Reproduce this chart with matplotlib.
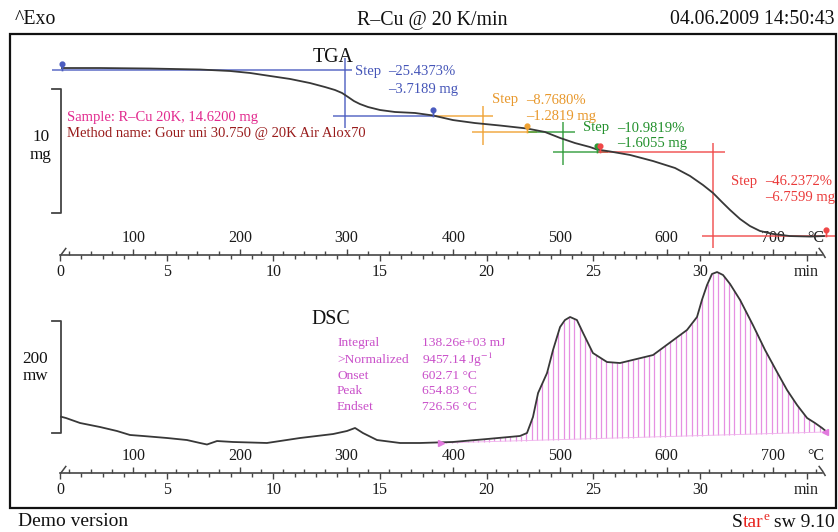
import numpy as np
import matplotlib
matplotlib.use("Agg")
import matplotlib.pyplot as plt
from matplotlib.path import Path
from matplotlib.patches import Rectangle
from matplotlib.ticker import FixedLocator

plt.rcParams['font.family'] = ['Liberation Serif', 'DejaVu Serif']
plt.rcParams['mathtext.fontset'] = 'stix'

# ---------------- data ----------------
tga_time = [0.09, 1.88, 4.22, 6.56, 7.97, 8.91, 9.84, 10.78, 11.72, 12.42, 12.89,
            13.22, 13.50, 13.78, 14.06, 14.44, 15.00, 15.70, 16.64, 17.48, 18.42,
            19.45, 20.63, 21.89, 22.73, 23.44, 24.14, 24.84, 25.17, 25.78, 26.72,
            27.80, 28.83, 29.53, 30.14, 30.61, 31.03, 31.41, 31.88, 32.34, 32.81,
            33.42, 34.22, 35.16, 35.81]
tga_mass = [14.78, 14.78, 14.74, 14.66, 14.54, 14.38, 14.14, 13.90, 13.57, 13.25, 13.01,
            12.77, 12.45, 12.12, 11.88, 11.64, 11.40, 11.24, 11.16, 10.96, 10.59,
            10.35, 10.15, 9.91, 9.63, 9.15, 8.74, 8.42, 8.22, 8.06, 7.78,
            7.29, 6.73, 6.09, 5.36, 4.72, 3.99, 3.35, 2.62, 2.06, 1.66,
            1.42, 1.25, 1.21, 1.25]

dsc_time = [0.05, 0.28, 0.94, 1.88, 2.67, 3.28, 3.89, 5.02, 5.95, 6.56, 6.89, 7.36,
            8.11, 9.70, 11.25, 12.80, 13.45, 13.83, 14.20, 14.86, 15.94, 16.88, 18.42,
            20.02, 21.56, 21.89, 22.17, 22.41, 22.83, 23.11, 23.44, 23.67, 23.91, 24.23,
            24.52, 24.98, 25.64, 26.25, 27.80, 29.39, 29.86, 30.09, 30.33, 30.56, 30.80,
            31.08, 31.41, 31.88, 32.48, 33.05, 33.61, 34.08, 34.55, 35.02, 35.39, 35.72,
            35.95]
dsc_heat = [100.5, 98.2, 89.3, 82.1, 75.0, 67.9, 66.1, 62.5, 58.9, 53.6, 50.9, 57.1,
            55.4, 53.6, 62.5, 69.6, 75.0, 80.4, 71.4, 58.9, 53.6, 53.6, 55.4,
            60.7, 66.1, 71.4, 100.0, 142.9, 178.6, 219.6, 260.7, 273.2, 278.6, 273.2,
            250.0, 214.3, 198.2, 196.4, 210.7, 255.4, 278.6, 308.9, 335.7, 355.4, 358.9,
            353.6, 337.5, 308.9, 264.3, 219.6, 180.4, 148.2, 121.4, 98.2, 89.3, 80.4,
            73.2]

sample_mass = 14.62
step_mg = [-3.7189, -1.2819, -1.6055, -6.7599]
step_pct = [-25.4373, -8.7680, -10.9819, -46.2372]
upper_start = [-0.375, 17.48, 21.89, 25.22]
upper_end = [13.69, 20.30, 24.14, 31.17]
lower_start = [12.80, 19.31, 23.11, 30.09]
lower_end = [17.67, 22.36, 25.69, 36.47]
inflect_time = [13.36, 19.83, 23.60, 30.61]
inflect_top = [15.59, 11.72, 10.43, 8.74]
inflect_bottom = [9.95, 8.58, 6.97, 0.29]
pin_time = [0.09, 17.48, 21.89, 25.17, 25.30, 35.90]
pin_level = [0, 1, 2, 3, 3, 4]
pin_step = [0, 0, 1, 2, 3, 3]

dsc_limits_time = [17.86, 35.86]
dsc_baseline = [53.6, 73.2]
dsc_labels = ['Integral', '>Normalized', 'Onset', 'Peak', 'Endset']
dsc_values = ['138.26e+03 mJ', '9457.14 Jg$^{-1}$', '602.71 °C', '654.83 °C', '726.56 °C']

time_ticks = [0, 5, 10, 15, 20, 25, 30, 35]
time_ticklabels = ['0', '5', '10', '15', '20', '25', '30', 'min']
temp_ticks = [100, 200, 300, 400, 500, 600, 700]
T_start = 31.3     # °C at t = 0
rate = 20.0        # K/min

# ---------------- styles ----------------
step_colors = ['#4b5cc0', '#f0a232', '#2e9a38', '#f04848']
text_colors = ['#4555b8', '#e8982c', '#22902c', '#ea3a3a']
curve_c = '#383838'
ruler_c = '#454545'
pink = '#c94fc9'

W, H = 838, 532
fig = plt.figure(figsize=(W / 100, H / 100), dpi=100)


def box(x0, y0, x1, y1):
    return [x0 / W, 1 - y1 / H, (x1 - x0) / W, (y1 - y0) / H]


def ftxt(x, y, s, **kw):
    kw.setdefault('va', 'center')
    kw.setdefault('ha', 'left')
    return fig.text(x / W, 1 - y / H, s, **kw)


def t2T(t):
    return T_start + rate * np.asarray(t)


def T2t(T):
    return (np.asarray(T) - T_start) / rate


XLIM = (-2.344, 36.375)
ax_t = fig.add_axes(box(10, 34, 836, 255))
ax_d = fig.add_axes(box(10, 260, 836, 473))
ax_t.set_ylim(-0.275, 17.519)
ax_d.set_ylim(0, 380.4)

hook_l = Path([(0, 0), (0.75, 1)])
hook_r = Path([(-0.45, 0.9), (0.0, 0.3), (0.35, -0.3)])

for ax in (ax_t, ax_d):
    ax.set_facecolor('none')
    ax.set_xlim(*XLIM)
    for s in ('top', 'left', 'right'):
        ax.spines[s].set_visible(False)
    ax.spines['bottom'].set_bounds(0, 35.7)
    ax.spines['bottom'].set_color(ruler_c)
    ax.spines['bottom'].set_linewidth(1.2)
    ax.set_yticks([])
    ax.set_xticks(time_ticks)
    ax.set_xticklabels(time_ticklabels)
    ax.xaxis.set_minor_locator(FixedLocator(np.arange(0, 36, 1)))
    ax.tick_params(axis='x', which='major', direction='out', length=4.5, width=1.0,
                   pad=1.8, labelsize=11.5, color=ruler_c, labelcolor='#1a1a1a')
    ax.tick_params(axis='x', which='minor', direction='out', length=3.0, width=1.0,
                   color=ruler_c)
    sec = ax.secondary_xaxis(0.0, functions=(t2T, T2t))
    sec.set_alignment('top')
    sec.spines['top'].set_visible(False)
    sec.set_xticks(temp_ticks)
    sec.xaxis.set_minor_locator(FixedLocator(np.arange(40, 741, 20)))
    sec.tick_params(axis='x', which='major', direction='out', length=4.5, width=1.0,
                    pad=1.8, labelsize=11.5, color=ruler_c, labelcolor='#1a1a1a')
    sec.tick_params(axis='x', which='minor', direction='out', length=3.0, width=1.0,
                    color=ruler_c)
    ax.annotate('°C', xy=(float(T2t(740)), 0), xycoords=('data', 'axes fraction'),
                xytext=(0, 6.3), textcoords='offset points', ha='center', va='bottom',
                fontsize=11.5, color='#1a1a1a', annotation_clip=False)
    lo = ax.get_ylim()[0]
    ax.plot([0], [lo], marker=hook_l, ms=11, mfc='none', mec=ruler_c, mew=1.1,
            clip_on=False, ls='none')
    ax.plot([35.7], [lo], marker=hook_r, ms=11, mfc='none', mec=ruler_c, mew=1.1,
            clip_on=False, ls='none')

# ---------------- TGA ----------------
levels = sample_mass + np.concatenate([[0.0], np.cumsum(step_mg)])
for i, c in enumerate(step_colors):
    ax_t.hlines(levels[i], upper_start[i], upper_end[i], color=c, lw=1.1, alpha=0.9, zorder=2)
    ax_t.hlines(levels[i + 1], lower_start[i], lower_end[i], color=c, lw=1.1, alpha=0.9, zorder=2)
    ax_t.vlines(inflect_time[i], inflect_bottom[i], inflect_top[i], color=c, lw=1.1,
                alpha=0.9, zorder=2)

ax_t.plot(tga_time, tga_mass, color=curve_c, lw=1.3, zorder=3)

pin = Path.make_compound_path(Path.circle((0, 0.72), 0.26),
                              Path([(0, 0.5), (0, -0.1)]))
for tt, lv, si in zip(pin_time, pin_level, pin_step):
    ax_t.plot([tt], [levels[lv]], marker=pin, ms=12, color=step_colors[si],
              mec=step_colors[si], mew=1.2, ls='none', zorder=4, clip_on=False)

# scale bar 10 mg
sb_top = 13.09
ax_t.plot([-0.375, 0.05, 0.05, -0.375], [sb_top, sb_top, sb_top - 10, sb_top - 10],
          color='#444444', lw=1.3)

# ---------------- DSC ----------------
ht = np.arange(dsc_limits_time[0], dsc_limits_time[1], 0.25)
top = np.interp(ht, dsc_time, dsc_heat)
bot = np.interp(ht, dsc_limits_time, dsc_baseline)
ax_d.vlines(ht, bot, np.maximum(top, bot), color='#e690e2', lw=0.9, zorder=1)
ax_d.plot(dsc_limits_time, dsc_baseline, color='#f0b0ec', lw=0.6, zorder=1)
ax_d.plot(dsc_time, dsc_heat, color=curve_c, lw=1.3, zorder=3)
ax_d.plot([dsc_limits_time[0]], [dsc_baseline[0]], marker='>', ms=4, color='#e27ade',
          ls='none', zorder=4)
ax_d.plot([dsc_limits_time[1]], [dsc_baseline[1]], marker='<', ms=4, color='#e27ade',
          ls='none', zorder=4, clip_on=False)

sb_top_d = 271.4
ax_d.plot([-0.375, 0.05, 0.05, -0.375], [sb_top_d, sb_top_d, sb_top_d - 200, sb_top_d - 200],
          color='#444444', lw=1.3)

# ---------------- frame & texts ----------------
fig.add_artist(Rectangle((10 / W, 1 - 508 / H), 826 / W, 474 / H, transform=fig.transFigure,
                         fill=False, lw=1.6, ec='#111111'))

HS = 14.3
ftxt(15, 20, '^Exo', fontsize=HS, color='#111111')
ftxt(432, 20, 'R–Cu @ 20 K/min', ha='center', fontsize=HS, color='#111111')
ftxt(834, 20, '04.06.2009 14:50:43', ha='right', fontsize=HS, color='#111111')

ftxt(333, 57, 'TGA', ha='center', fontsize=HS, color='#111111')
ftxt(331, 319, 'DSC', ha='center', fontsize=HS, color='#111111')

ftxt(41, 137, '10', ha='center', fontsize=12.3, color='#111111')
ftxt(41, 155, 'mg', ha='center', fontsize=12.3, color='#111111')
ftxt(35, 359, '200', ha='center', fontsize=12.3, color='#111111')
ftxt(35, 376, 'mw', ha='center', fontsize=12.3, color='#111111')

ftxt(67, 117, 'Sample: R–Cu 20K, 14.6200 mg', fontsize=10.5, color='#e22a8e')
ftxt(67, 134, 'Method name: Gour uni 30.750 @ 20K Air Alox70', fontsize=10.5, color='#991c1c')

step_text_pos = [(355, 388, 71.5, 89.3), (492, 526, 100, 116.5),
                 (583, 617, 128, 144), (731, 765, 181.7, 197.5)]
for (xs, xv, y1, y2), p, m, c in zip(step_text_pos, step_pct, step_mg, text_colors):
    ftxt(xs, y1, 'Step', fontsize=10.5, color=c)
    ftxt(xv, y1, f'–{abs(p):.4f}%', fontsize=10.5, color=c)
    ftxt(xv, y2, f'–{abs(m):.4f} mg', fontsize=10.5, color=c)

dsc_y = [343, 360, 376, 391.5, 406.5]
for lab, val, y in zip(dsc_labels, dsc_values, dsc_y):
    ftxt(337, y, lab, fontsize=9.7, color=pink)
    ftxt(422, y, val, fontsize=9.7, color=pink)

ftxt(18, 522, 'Demo version', fontsize=14, color='#111111')

# "Star^e sw 9.10" with coloured parts, right aligned
r = fig.canvas.get_renderer()
base_y = 1 - 527 / H
t1 = fig.text(835 / W, base_y, ' sw 9.10', ha='right', va='baseline', fontsize=14,
              color='#111111')
x0 = t1.get_window_extent(r).x0
t2 = fig.text(x0 / W, base_y + 7 / H, 'e', ha='right', va='baseline', fontsize=9.5,
              color='#e8231e')
x0 = t2.get_window_extent(r).x0
t3 = fig.text(x0 / W, base_y, 'tar', ha='right', va='baseline', fontsize=14, color='#e8231e')
x0 = t3.get_window_extent(r).x0
fig.text(x0 / W, base_y, 'S', ha='right', va='baseline', fontsize=14, color='#111111')

fig.savefig('out.png', dpi=100)
